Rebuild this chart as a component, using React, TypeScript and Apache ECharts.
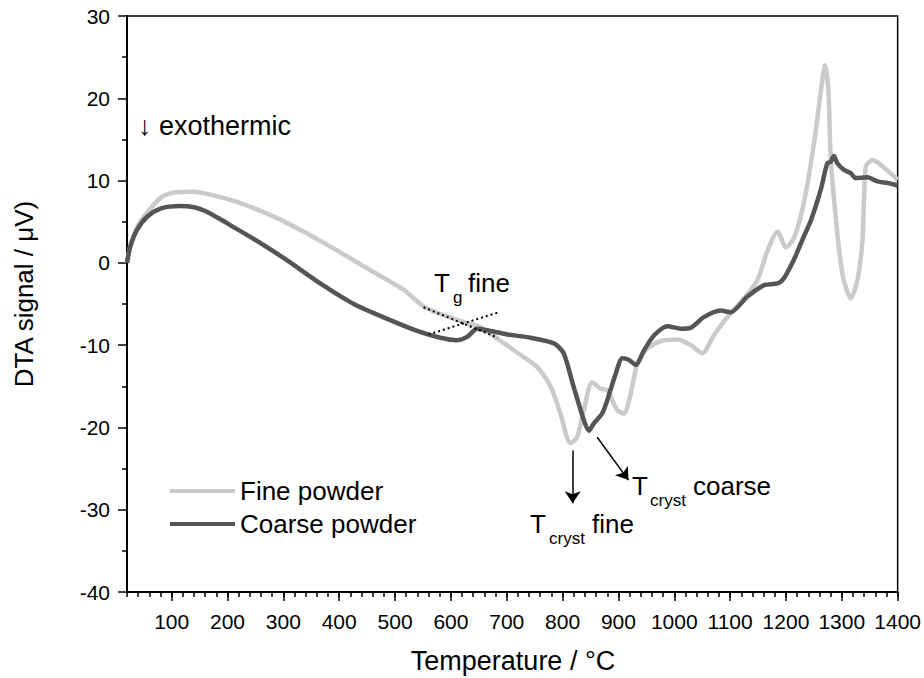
import React, { useEffect, useRef } from "react";
import * as echarts from "echarts";

// ---- data ----
const fineTemp = [20, 26, 38, 56, 80, 104, 139, 175, 217, 277, 336, 396, 456, 516, 551, 581, 623, 653, 683, 725, 755, 779, 796, 814, 826, 838, 853, 868, 880, 898, 910, 922, 934, 952, 976, 1006, 1030, 1050, 1071, 1095, 1125, 1149, 1167, 1185, 1200, 1215, 1233, 1251, 1262, 1270, 1276, 1280, 1289, 1301, 1316, 1328, 1337, 1343, 1355, 1370, 1400];
const fineSignal = [0, 2.1, 4.3, 6.1, 7.9, 8.55, 8.65, 8.2, 7.4, 5.8, 3.8, 1.5, -0.9, -3.3, -5.3, -6.2, -7.2, -7.8, -9.2, -11.2, -12.7, -15.1, -18.3, -21.9, -21.2, -17.9, -14.5, -15.3, -15.5, -17.9, -18.3, -15.9, -12.2, -10.4, -9.5, -9.3, -10.0, -11.0, -8.8, -6.6, -4.3, -2.1, 1.5, 3.8, 1.9, 3.1, 7.6, 14.9, 20.6, 24.0, 21.0, 12.9, 5.6, -1.3, -4.3, -2.1, 2.8, 11.7, 12.5, 11.9, 10.1];

const coarseTemp = [20, 26, 38, 56, 80, 115, 140, 160, 187, 217, 247, 307, 366, 426, 486, 545, 581, 611, 629, 647, 665, 701, 743, 785, 802, 820, 838, 847, 856, 871, 880, 895, 907, 919, 931, 946, 964, 988, 1012, 1029, 1053, 1083, 1101, 1131, 1161, 1185, 1197, 1215, 1232, 1245, 1262, 1274, 1280, 1286, 1292, 1304, 1316, 1325, 1346, 1364, 1382, 1400];
const coarseSignal = [0, 2.0, 4.0, 5.6, 6.6, 6.9, 6.75, 6.3, 5.3, 4.1, 2.9, 0.3, -2.5, -5.0, -6.8, -8.4, -9.1, -9.4, -9.0, -8.0, -8.2, -8.7, -9.1, -9.8, -11.0, -15.1, -19.1, -20.4, -19.5, -18.3, -16.7, -13.5, -11.6, -11.8, -12.4, -10.6, -8.8, -7.7, -8.0, -7.9, -6.6, -5.8, -6.0, -4.1, -2.7, -2.5, -1.8, 0.5, 3.2, 5.2, 8.8, 12.1, 12.3, 13.0, 12.1, 11.3, 10.9, 10.3, 10.4, 9.9, 9.7, 9.4];

// tangent construction for Tg (temperature, signal)
const tangentA = [[551, -5.4], [684, -9.1]];
const tangentB = [[560, -8.7], [686, -6.0]];

// arrows to crystallisation peaks
const arrowFine = [[818, -22.8], [818, -29.2]];
const arrowCoarse = [[862, -21.2], [918, -26.4]];

const xTicks = [100, 200, 300, 400, 500, 600, 700, 800, 900, 1000, 1100, 1200, 1300, 1400];

const seriesNames = ["Fine powder", "Coarse powder"];

const FONT = "'Liberation Sans', Arial, Helvetica, sans-serif";

function zip(a: number[], b: number[]) {
  return a.map((v, i) => [v, b[i]]);
}

export default function App() {
  const ref = useRef<HTMLDivElement>(null);

  useEffect(() => {
    if (!ref.current) return;
    const chart = echarts.init(ref.current, null, { renderer: "svg" });

    const txt = (text: string, x: number, y: number, size: number, extra: any = {}) => ({
      type: "text",
      x,
      y,
      silent: true,
      ...extra,
      style: {
        text,
        fill: "#000",
        fontSize: size,
        fontFamily: FONT,
        align: "left",
        verticalAlign: "middle",
        ...(extra.style || {}),
      },
    });

    const option: any = {
      animation: false,
      backgroundColor: "#fff",
      grid: {
        left: 127,
        right: 26,
        top: 16,
        bottom: 86,
        show: true,
        borderColor: "#000",
        borderWidth: 1.5,
        backgroundColor: "transparent",
      },
      legend: {
        data: seriesNames,
        orient: "vertical",
        left: 170,
        top: 478,
        padding: 0,
        icon: "rect",
        itemWidth: 65,
        itemHeight: 4,
        itemGap: 7,
        textStyle: { fontSize: 26, fontFamily: FONT, color: "#000", lineHeight: 26 },
        selectedMode: false,
      },
      xAxis: [
        {
          type: "value",
          position: "bottom",
          min: 20,
          max: 1400,
          axisLine: { show: true, onZero: false, lineStyle: { color: "#000", width: 2 } },
          axisTick: { show: true, length: 9, customValues: xTicks, lineStyle: { color: "#000", width: 1.5 } },
          axisLabel: {
            show: true,
            customValues: xTicks,
            fontSize: 21,
            fontFamily: FONT,
            color: "#000",
            margin: 19,
            formatter: (v: number) => String(v),
          },
          splitLine: { show: false },
        },
        {
          type: "value",
          position: "bottom",
          min: 20,
          max: 1400,
          interval: 20,
          axisLine: { show: false, onZero: false },
          axisTick: { show: true, length: 5, lineStyle: { color: "#000", width: 1.5 } },
          axisLabel: { show: false },
          splitLine: { show: false },
        },
      ],
      yAxis: {
        type: "value",
        min: -40,
        max: 30,
        interval: 10,
        axisLine: { show: true, onZero: false, lineStyle: { color: "#000", width: 2 } },
        axisTick: { show: true, length: 9, lineStyle: { color: "#000", width: 1.5 } },
        minorTick: { show: true, splitNumber: 2, length: 5, lineStyle: { color: "#000", width: 1.5 } },
        axisLabel: { fontSize: 21, fontFamily: FONT, color: "#000", margin: 17 },
        splitLine: { show: false },
      },
      series: [
        {
          name: seriesNames[0],
          type: "line",
          data: zip(fineTemp, fineSignal),
          symbol: "none",
          smooth: 0.25,
          lineStyle: { color: "#cacaca", width: 4.5 },
          itemStyle: { color: "#cacaca" },
          z: 2,
        },
        {
          name: seriesNames[1],
          type: "line",
          data: zip(coarseTemp, coarseSignal),
          symbol: "none",
          smooth: 0.25,
          lineStyle: { color: "#555555", width: 4.5 },
          itemStyle: { color: "#555555" },
          z: 3,
        },
        {
          name: "tangentA",
          type: "line",
          data: tangentA,
          symbol: "none",
          lineStyle: { color: "#000", width: 2, type: [2, 3] },
          z: 4,
        },
        {
          name: "tangentB",
          type: "line",
          data: tangentB,
          symbol: "none",
          lineStyle: { color: "#000", width: 2, type: [2, 3] },
          z: 4,
          markLine: {
            silent: true,
            symbol: ["none", "arrow"],
            symbolSize: 12,
            label: { show: false },
            lineStyle: { color: "#000", width: 1.5, type: "solid" },
            data: [
              [{ coord: arrowFine[0] }, { coord: arrowFine[1] }],
              [{ coord: arrowCoarse[0] }, { coord: arrowCoarse[1] }],
            ],
          },
        },
      ],
      graphic: [
        txt("↓ exothermic", 138, 126, 27),
        txt("T", 434, 283, 26),
        txt("g", 453, 297, 17),
        txt("fine", 468, 283, 26),
        txt("T", 530, 524, 26),
        txt("cryst", 549, 538, 17),
        txt("fine", 592, 524, 26),
        txt("T", 632, 486, 26),
        txt("cryst", 650, 500, 17),
        txt("coarse", 693, 486, 26),
        txt("Temperature / °C", 513, 661, 27, { style: { align: "center" } }),
        txt("DTA signal / μV)", 24, 294, 26, { rotation: Math.PI / 2, style: { align: "center" } }),
      ],
    };

    chart.setOption(option);
    return () => chart.dispose();
  }, []);

  return (
    <div
      ref={ref}
      style={{ position: "fixed", left: 0, top: 0, width: 924, height: 678, background: "#fff" }}
    />
  );
}
